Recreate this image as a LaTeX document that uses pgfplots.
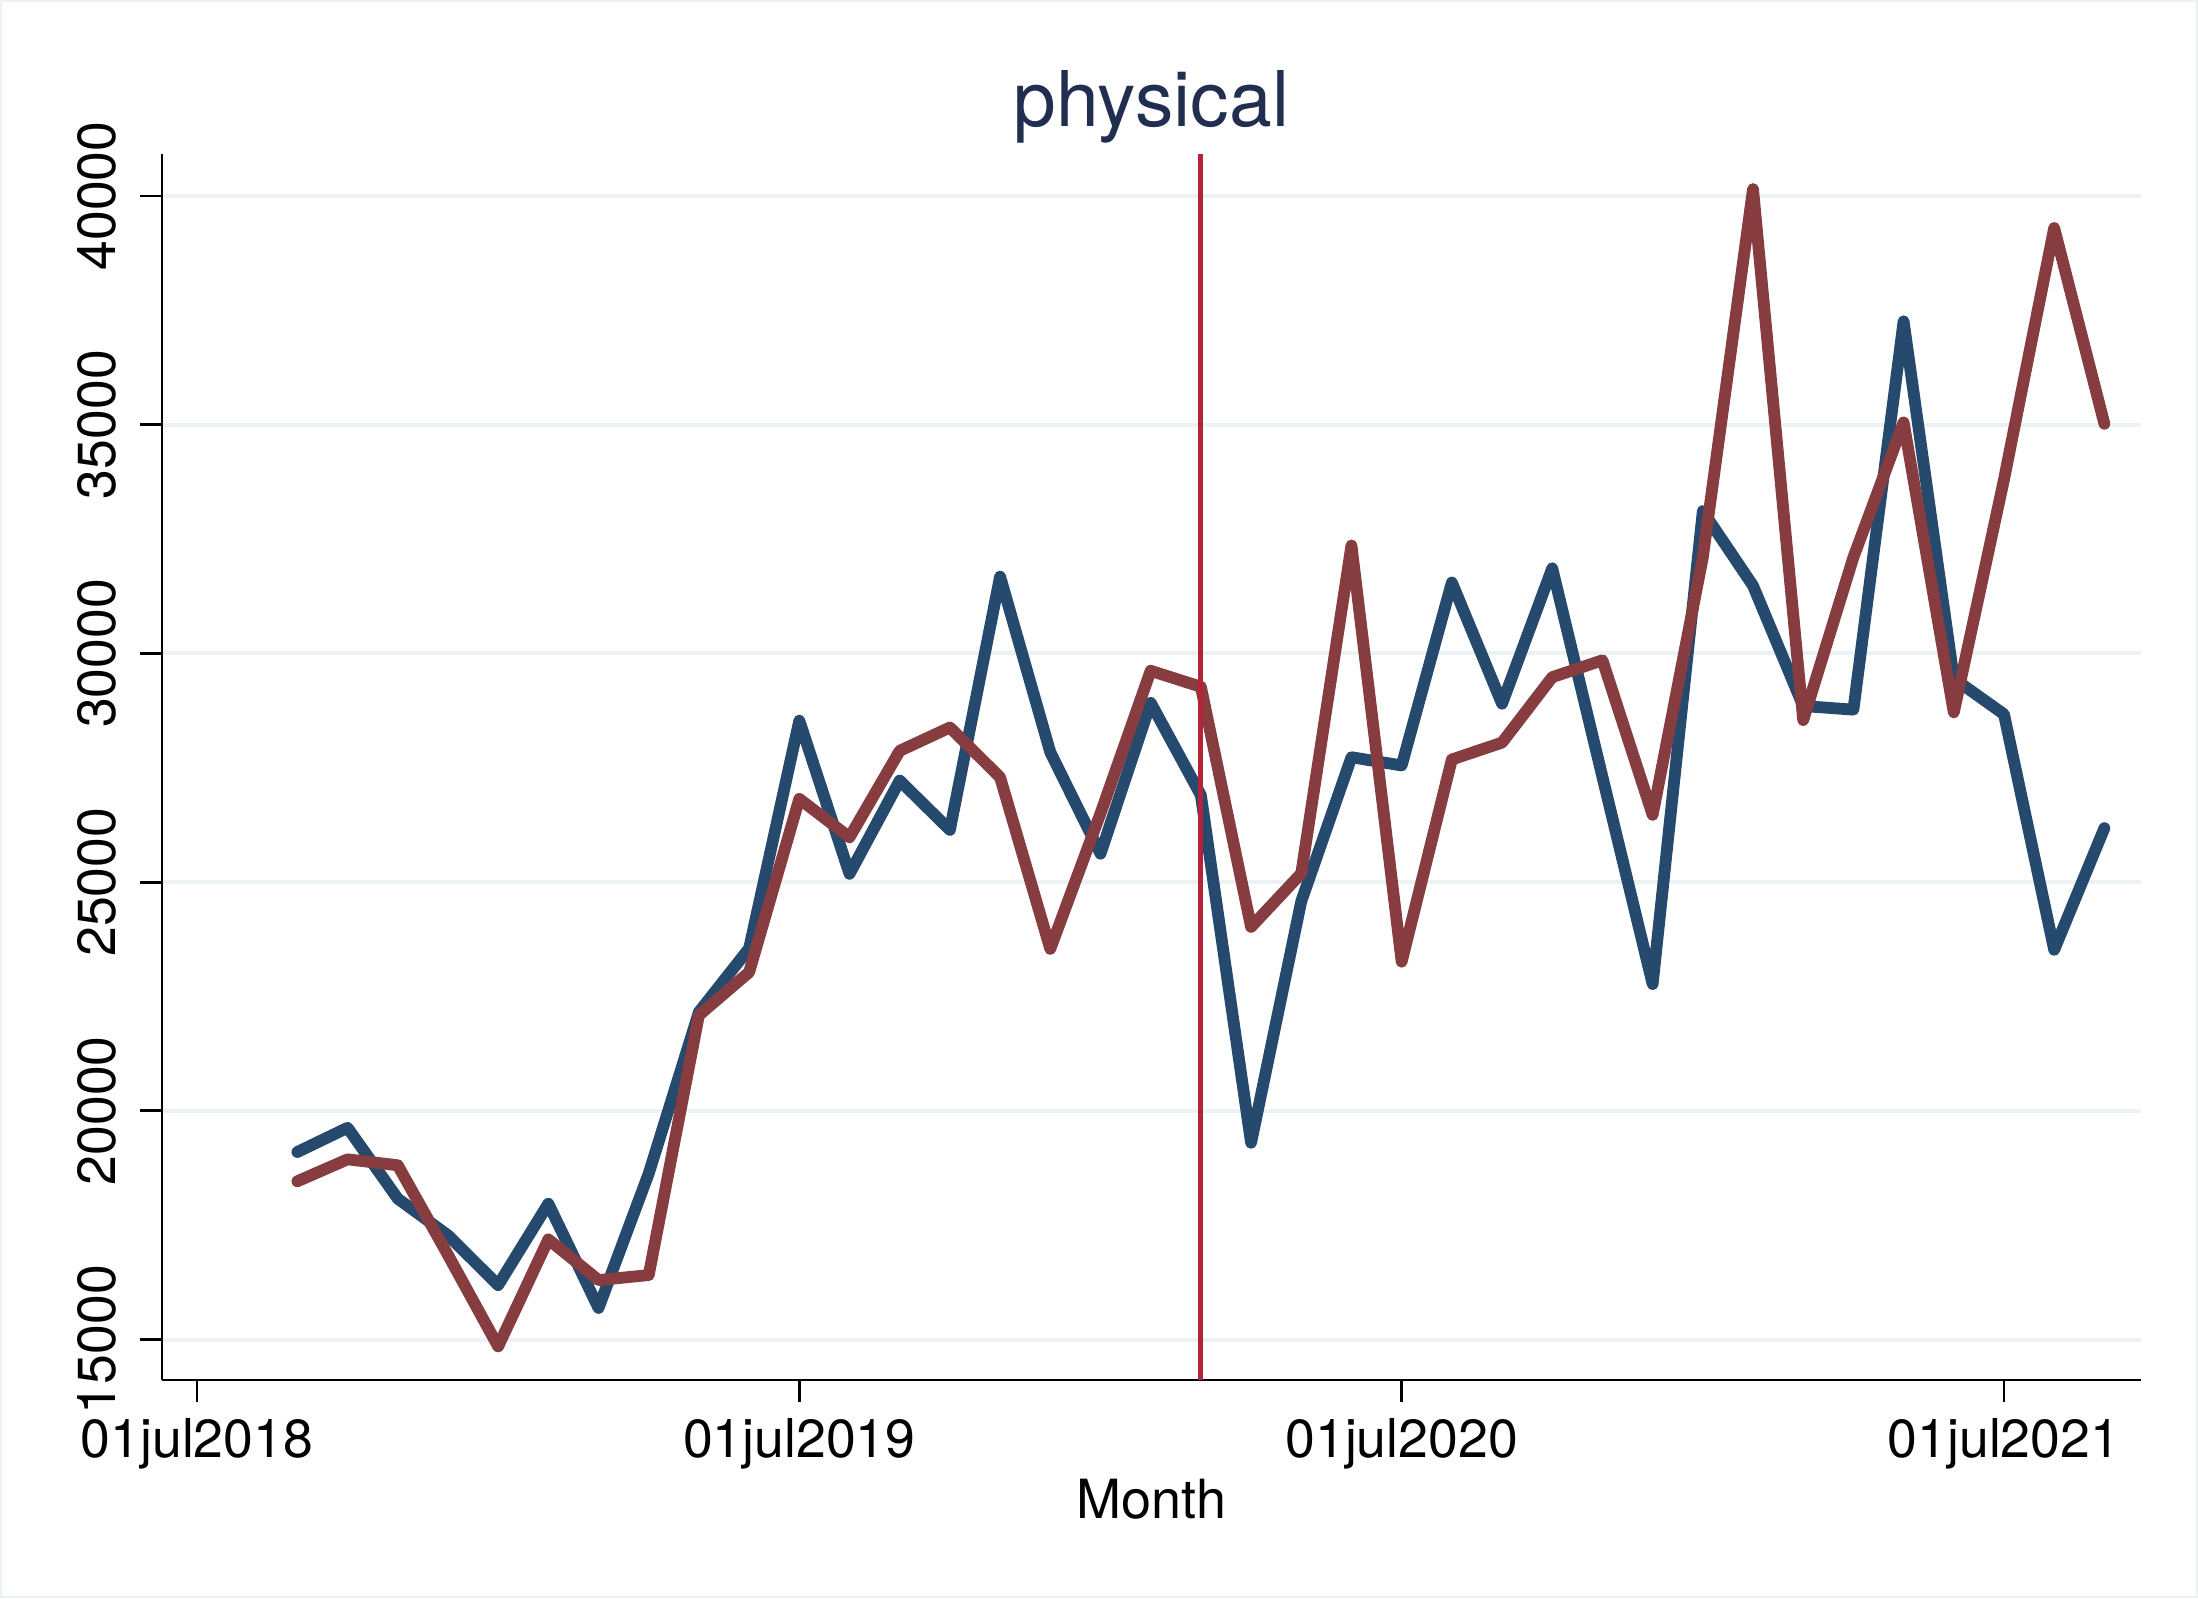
\documentclass[border=0pt]{standalone}
\usepackage{fontspec}
\setmainfont{TeX Gyre Heros}
\usepackage{pgfplots}
\usepackage{pgfplotstable}
\pgfplotsset{compat=1.18}
\definecolor{sblue}{RGB}{38,73,110}
\definecolor{sred}{RGB}{135,60,64}
\definecolor{vred}{RGB}{180,35,55}
\definecolor{gridc}{RGB}{234,242,243}
\definecolor{ttl}{RGB}{34,46,80}

% m = months since July 2018
\pgfplotstableread{
m  blue   red
2  19100  18460
3  19630  18940
4  18080  18810
5  17280  16850
6  16190  14850
7  17970  17190
8  15690  16300
9  18630  16410
10 22160  22090
11 23550  23030
12 28530  26820
13 25180  25980
14 27220  27870
15 26140  28380
16 31680  27290
17 27840  23540
18 25620  26500
19 28920  29620
20 26900  29270
21 19300  24020
22 24580  25190
23 27730  32360
24 27550  23260
25 31550  27680
26 28900  28050
27 31860  29480
28 27300  29850
29 22770  26470
30 33110  32100
31 31480  40150
32 28850  28540
33 28770  32100
34 37260  35050
35 29450  28710
36 28670  33800
37 23520  39300
38 26180  35020
}\datatable

\begin{document}
\begin{tikzpicture}
\path[use as bounding box] (0,0) rectangle (549.5pt,399.5pt);
\draw[gridc, line width=0.6pt] (0.3pt,0.3pt) rectangle (549.2pt,399.2pt);
\begin{axis}[
  at={(40.5pt,54.5pt)}, anchor=south west,
  scale only axis, width=494.75pt, height=306.5pt,
  xmin=-0.697, xmax=38.73, ymin=14116, ymax=40917,
  axis x line*=bottom, axis y line*=left,
  axis line style={-, line width=0.7pt, black},
  tick align=outside, major tick length=5.5pt,
  tick style={line width=0.7pt, black},
  xtick={0,12,24,36},
  xticklabels={01jul2018,01jul2019,01jul2020,01jul2021},
  ytick={15000,20000,25000,30000,35000,40000},
  yticklabels={15000,20000,25000,30000,35000,40000},
  scaled y ticks=false, scaled x ticks=false,
  ymajorgrids, grid style={gridc, line width=1pt},
  ticklabel style={font=\fontsize{13.4pt}{16pt}\selectfont, inner sep=0pt},
  xticklabel style={anchor=north},
  xticklabel shift=4pt,
  yticklabel style={rotate=90, anchor=south},
  yticklabel shift=5.75pt,
  title=physical,
  title style={font=\fontsize{19.2pt}{23pt}\selectfont, text=ttl,
    at={(axis description cs:0.5,1)}, anchor=base, yshift=0.75pt, inner sep=0pt},
  xlabel=Month,
  xlabel style={font=\fontsize{13.5pt}{16pt}\selectfont,
    at={(axis description cs:0.5,0)}, anchor=base, yshift=-34.5pt, inner sep=0pt},
]
\addplot[sblue, line width=2.95pt, line join=round, line cap=round] table[x=m, y=blue] {\datatable};
\addplot[sred, line width=2.95pt, line join=round, line cap=round] table[x=m, y=red] {\datatable};
\addplot[vred, line width=1.2pt] coordinates {(20,14116) (20,40917)};
\end{axis}
\end{tikzpicture}
\end{document}
